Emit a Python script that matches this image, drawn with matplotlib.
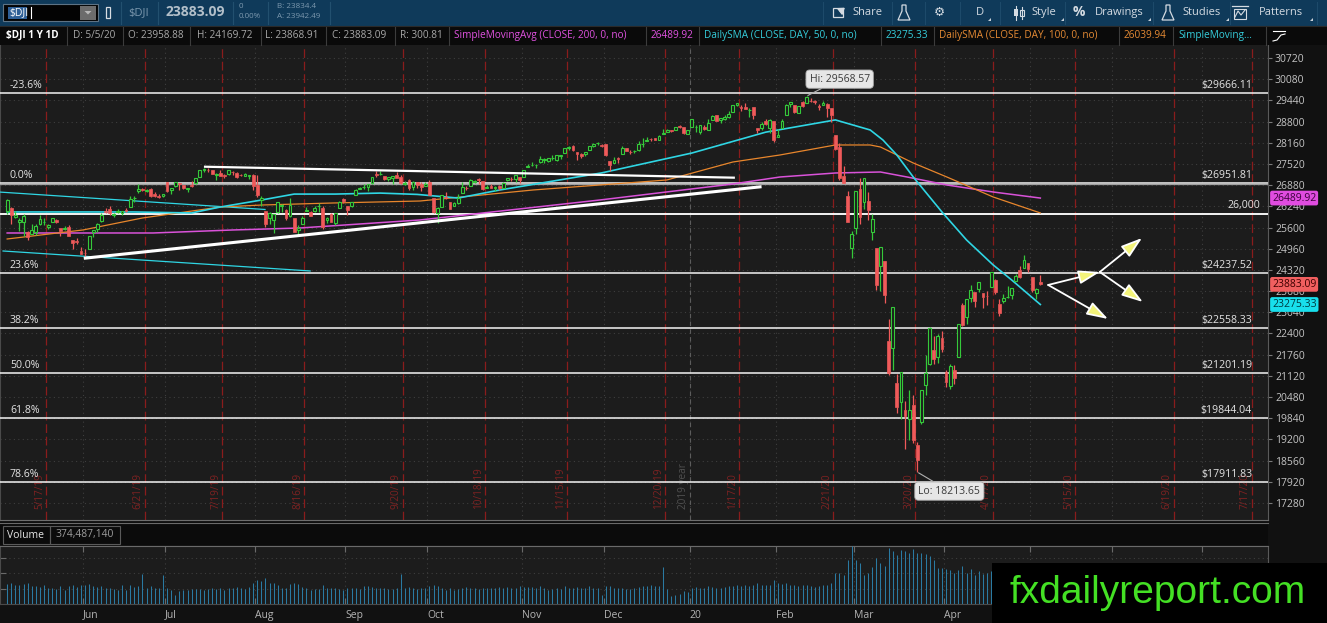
"""Rebuild the thinkorswim $DJI 1Y/1D chart snapshot (5/5/20) as out.png."""

import numpy as np
import pandas as pd
import matplotlib

matplotlib.use("Agg")
import matplotlib.pyplot as plt
from matplotlib import transforms
from matplotlib.patches import Rectangle, Polygon

W, H, DPI = 1327, 623, 100

# ------------------------------------------------------------------ data
holidays = ["2019-05-27", "2019-07-04", "2019-09-02", "2019-11-28", "2019-12-25",
            "2020-01-01", "2020-01-20", "2020-02-17", "2020-04-10", "2020-05-25",
            "2020-07-03"]

opens = [
    # May 19
    26100, 26200, 25925, 25780, 25770, 25450, 25400, 25450, 25700, 25760, 25620, 25780, 25830, 25600, 25550, 25620, 25210, 25180, 24900,
    # Jun 19
    24830, 24960, 25470, 25550, 25790, 26110, 26150, 25990, 26060, 26040, 26120, 26220, 26480, 26700, 26760, 26700, 26750, 26600, 26560, 26560,
    # Jul 19
    26960, 26720, 26840, 26930, 26870, 26750, 26880, 26930, 27120, 27330, 27340, 27340, 27180, 27260, 27180, 27230, 27290, 27260, 27200, 27170, 27170, 27180,
    # Aug 19
    26880, 26440, 26110, 25890, 25830, 26070, 26260, 26140, 25950, 25900, 25540, 25700, 26100, 26080, 26090, 26240, 26180, 25820, 26010, 25730, 26180, 26460,
    # Sep 19
    26260, 26260, 26570, 26770, 26820, 26810, 26950, 27210, 27220, 27150, 27080, 27100, 27180, 27130, 26900, 27030, 26810, 26970, 26920, 26850,
    # Oct 19
    26960, 26490, 26040, 26230, 26530, 26370, 26250, 26330, 26650, 26790, 26840, 26990, 27060, 27000, 26800, 26860, 26780, 26860, 26800, 27030, 27080, 27060, 27130,
    # Nov 19
    27120, 27420, 27480, 27490, 27570, 27650, 27620, 27690, 27640, 27760, 27850, 28000, 28070, 27890, 27830, 27810, 27950, 28060, 28150, 28100,
    # Dec 19
    28110, 27600, 27560, 27690, 27820, 27990, 27890, 27910, 27930, 28130, 28220, 28270, 28290, 28230, 28410, 28490, 28560, 28540, 28680, 28650, 28420,
    # Jan 20
    28640, 28630, 28470, 28640, 28560, 28850, 29000, 28850, 28880, 28940, 29100, 29310, 29240, 29250, 29140, 29240, 28600, 28600, 28820, 28620, 28810,
    # Feb 20
    28320, 28620, 28990, 29330, 29290, 29050, 29390, 29360, 29430, 29430, 29280, 29300, 29330, 29210, 28400, 28030, 27150, 26560, 24980,
    # Mar 20
    25590, 26763, 26383, 26390, 25457, 24992, 24453, 24604, 22184, 21973, 20900, 20345, 20090, 19829, 20254, 19028, 19723, 20856, 21469, 21899, 21678, 22277,
    # Apr 20
    21227, 20819, 21285, 21693, 23264, 22893, 23482, 23659, 23754, 23635, 23543, 23816, 24020, 23300, 23369, 23489, 23575, 23985, 24322, 24387, 24524,
    # May 20
    24119, 23613, 23958.88,
]
highs = [
    26450, 26215, 26100, 25890, 26000, 25500, 25700, 25720, 25980, 25900, 25720, 25900, 25870, 25600, 25650, 25670, 25210, 25270, 25010,
    24950, 25340, 25540, 25750, 26050, 26200, 26250, 26030, 26150, 26110, 26190, 26550, 26560, 26910, 26800, 26770, 26790, 26660, 26620, 26620,
    26970, 26790, 26970, 26950, 26870, 26800, 27000, 27100, 27330, 27400, 27390, 27350, 27240, 27340, 27230, 27350, 27300, 27270, 27230, 27250, 27200, 27230,
    27180, 26550, 26110, 26060, 26010, 26380, 26300, 26150, 26490, 25900, 25680, 25940, 26230, 26110, 26250, 26340, 26260, 25920, 26040, 26040, 26400, 26480,
    26260, 26360, 26750, 26830, 26910, 26910, 27140, 27300, 27310, 27150, 27130, 27160, 27270, 27180, 27000, 27080, 27010, 26990, 26990, 26960,
    27040, 26490, 26220, 26590, 26680, 26370, 26380, 26620, 26960, 26840, 27070, 27050, 27090, 27000, 26890, 26920, 26840, 26880, 26990, 27110, 27120, 27200, 27130,
    27350, 27520, 27580, 27520, 27770, 27690, 27700, 27800, 27800, 27800, 28010, 28050, 28090, 27890, 27840, 27880, 28070, 28140, 28170, 28120,
    28110, 27600, 27730, 27720, 28060, 28000, 27950, 27940, 28220, 28290, 28340, 28300, 28300, 28380, 28590, 28580, 28560, 28630, 28700, 28650, 28540,
    28870, 28710, 28710, 28690, 28870, 28990, 29010, 28910, 29010, 29120, 29300, 29370, 29300, 29370, 29200, 29250, 28600, 28800, 28890, 28880, 28820,
    28580, 28870, 29320, 29380, 29290, 29280, 29410, 29568.57, 29500, 29440, 29340, 29410, 29370, 29210, 28400, 28150, 27450, 26710, 25500,
    26706, 27084, 27091, 26663, 26016, 24992, 25020, 24604, 22838, 23186, 21189, 21248, 20363, 20680, 20531, 19121, 20705, 21758, 22595, 22327, 22378, 22479,
    21287, 21477, 21447, 22680, 23328, 23434, 23849, 23659, 23962, 23635, 23688, 24265, 24052, 23448, 23592, 23822, 23783, 24206, 24434, 24764, 24524,
    24119, 23776, 24169.72,
]
lows = [
    26000, 25700, 25880, 25500, 25350, 25222, 25400, 25370, 25680, 25690, 25550, 25760, 25740, 25330, 25530, 25340, 24940, 25110, 24810,
    24680, 24960, 25300, 25460, 25770, 26030, 25980, 25930, 26030, 25990, 26070, 26220, 26370, 26630, 26710, 26670, 26530, 26510, 26500, 26530,
    26670, 26610, 26830, 26720, 26760, 26660, 26820, 26920, 27120, 27290, 27290, 27210, 27030, 27150, 27100, 27190, 27200, 27100, 27150, 27150, 27060, 26730,
    26510, 26250, 25630, 25700, 25440, 26030, 26080, 25830, 25920, 25470, 25340, 25700, 26090, 25950, 26080, 26080, 25550, 25740, 25760, 25690, 26180, 26330,
    25980, 26220, 26570, 26770, 26770, 26710, 26920, 27130, 27200, 27030, 27010, 26910, 27090, 26910, 26880, 26740, 26740, 26790, 26700, 26850,
    26570, 26030, 25740, 26230, 26460, 26160, 26250, 26300, 26650, 26740, 26840, 26950, 26920, 26720, 26800, 26780, 26710, 26730, 26780, 27000, 27020, 26980, 26930,
    27120, 27420, 27450, 27410, 27560, 27560, 27590, 27630, 27600, 27670, 27840, 27950, 27900, 27640, 27700, 27760, 27950, 28040, 28090, 28030,
    27750, 27320, 27560, 27560, 27820, 27900, 27820, 27850, 27900, 28030, 28220, 28220, 28230, 28230, 28410, 28490, 28500, 28540, 28600, 28420, 28410,
    28630, 28500, 28420, 28550, 28550, 28850, 28810, 28770, 28860, 28920, 29090, 29280, 29130, 29180, 28950, 28880, 28440, 28550, 28710, 28460, 28170,
    28320, 28620, 28990, 29230, 29050, 29050, 29240, 29360, 29380, 29330, 29160, 29290, 28930, 28790, 27930, 27040, 26930, 25760, 24680,
    25391, 25706, 26156, 25832, 25226, 23707, 23690, 23328, 21154, 21286, 19990, 19804, 18917, 19178, 19094, 18213.65, 19651, 20535, 21448, 21469, 21522, 21852,
    20784, 20735, 20863, 21693, 22630, 22683, 23352, 23209, 23655, 23163, 23266, 23816, 23593, 22941, 23311, 23471, 23446, 23985, 24080, 24387, 24253,
    23645, 23443, 23868.91,
]
closes = [
    26438, 25965, 25968, 25828, 25942, 25324, 25532, 25648, 25862, 25764, 25679, 25877, 25776, 25490, 25585, 25347, 25126, 25169, 24815,
    24820, 25332, 25540, 25720, 25984, 26062, 26048, 26005, 26107, 26090, 26112, 26466, 26504, 26753, 26720, 26728, 26548, 26537, 26526, 26600,
    26718, 26787, 26966, 26922, 26806, 26784, 26860, 27088, 27332, 27359, 27336, 27220, 27223, 27154, 27171, 27349, 27270, 27140, 27192, 27221, 27198, 26864,
    26583, 26485, 25718, 26030, 26008, 26378, 26287, 25898, 26280, 25479, 25579, 25886, 26136, 25962, 26202, 26253, 25629, 25899, 25778, 26036, 26363, 26403,
    26118, 26356, 26728, 26797, 26835, 26909, 27137, 27182, 27220, 27076, 27111, 27147, 27094, 26935, 26950, 26808, 26970, 26891, 26820, 26917,
    26573, 26079, 26202, 26573, 26478, 26164, 26347, 26497, 26817, 26787, 27025, 27001, 27026, 26770, 26828, 26788, 26834, 26806, 26958, 27091, 27071, 27186, 27046,
    27347, 27462, 27492, 27493, 27675, 27681, 27691, 27691, 27784, 27782, 28005, 28036, 27934, 27821, 27766, 27876, 28066, 28122, 28164, 28051,
    27783, 27503, 27650, 27678, 28015, 27910, 27881, 27911, 28132, 28135, 28235, 28268, 28240, 28377, 28455, 28551, 28515, 28621, 28645, 28462, 28538,
    28869, 28634, 28703, 28584, 28745, 28957, 28824, 28907, 28940, 29030, 29298, 29348, 29196, 29186, 29160, 28990, 28536, 28723, 28734, 28860, 28256,
    28400, 28808, 29291, 29380, 29103, 29276, 29277, 29551, 29424, 29398, 29232, 29348, 29220, 28992, 27961, 27081, 26957, 25766, 25409,
    26703, 25917, 27091, 26121, 25865, 23851, 25018, 23553, 21200, 23186, 20189, 21237, 19899, 20087, 19174, 18592, 20705, 21200, 22552, 21637, 22327, 21917,
    20944, 21413, 21053, 22680, 22654, 23434, 23719, 23390, 23950, 23505, 23538, 24242, 23650, 23019, 23475, 23516, 23775, 24134, 24102, 24634, 24346,
    23724, 23750, 23883.09,
]
# volume in millions of shares
volumes = [
    320, 330, 300, 310, 320, 340, 290, 280, 270, 300, 250, 250, 240, 290, 220, 280, 300, 270, 300,
    300, 320, 280, 270, 290, 260, 260, 240, 230, 300, 220, 300, 270, 280, 480, 250, 280, 250, 260, 470,
    260, 230, 150, 200, 220, 230, 240, 240, 240, 230, 240, 250, 240, 260, 230, 260, 250, 270, 250, 240, 270, 340,
    380, 360, 410, 330, 340, 300, 260, 260, 320, 340, 320, 270, 250, 230, 240, 240, 310, 250, 260, 260, 240, 230,
    260, 250, 260, 240, 280, 290, 270, 250, 250, 260, 240, 240, 250, 480, 250, 270, 250, 240, 250, 250,
    280, 300, 290, 260, 230, 260, 230, 240, 260, 270, 250, 250, 240, 260, 250, 260, 250, 270, 260, 270, 250, 260, 280,
    270, 270, 270, 260, 280, 250, 230, 240, 250, 240, 290, 260, 250, 270, 260, 250, 280, 260, 250, 140,
    280, 290, 260, 250, 260, 240, 240, 250, 270, 280, 290, 300, 280, 290, 590, 240, 130, 150, 160, 200, 190,
    260, 270, 260, 260, 280, 270, 250, 260, 270, 280, 280, 310, 290, 300, 280, 300, 340, 310, 300, 310, 380,
    330, 320, 340, 300, 310, 280, 300, 300, 290, 270, 290, 300, 310, 340, 490, 500, 470, 700, 920,
    700, 650, 470, 500, 590, 730, 650, 600, 890, 850, 780, 860, 850, 820, 870, 810, 820, 800, 760, 700, 580, 570,
    560, 540, 500, 550, 600, 500, 560, 470, 520, 480, 500, 520, 420, 470, 410, 420, 380, 400, 430, 460, 470,
    410, 380, 374.48714,
]

# moving averages (bar index, value)
sma50_at = [0, 31, 45, 52, 62, 70, 80, 91, 100, 110, 120, 145, 167, 185, 202, 210.5, 213.6, 217, 221, 228, 234, 240.5, 245, 252]
sma50 = [26070, 26070, 26040, 26220, 26430, 26610, 26610, 26640, 26600, 26490, 26730, 27250, 27850, 28480, 28850, 28546, 28244, 27790, 27126, 26069, 25224, 24469, 24016, 23275.33]
sma100_at = [0, 18.5, 33, 52, 62.4, 79.5, 100.7, 128.3, 160.9, 177, 188.5, 202, 210.5, 213, 217, 221, 229.2, 240.5, 252]
sma100 = [25254, 25526, 25888, 26220, 26281, 26341, 26401, 26734, 27036, 27579, 27791, 28093, 28093, 28032, 27791, 27549, 27126, 26522, 26039.94]
sma200_at = [0, 35.6, 55.1, 71.4, 100.7, 144.6, 177, 188.5, 202, 213, 219.5, 229.2, 240.5, 252]
sma200 = [25435, 25435, 25526, 25586, 25828, 26432, 26915, 27126, 27247, 27277, 27126, 26885, 26673, 26489.92]

# drawings
fib_levels = [29666.11, 26951.81, 24237.52, 22558.33, 21201.19, 19844.04, 17911.83]
fib_pcts = ["-23.6%", "0.0%", "23.6%", "38.2%", "50.0%", "61.8%", "78.6%"]
round_level = 26000
trend_x = [[48.0, 177.5], [18.7, 184.0]]
trend_y = [[27437, 27105], [24671, 26833]]
channel_x = [[-1.7, 62.9], [-1.0, 73.9]]
channel_y = [[26670, 26145], [24891, 24288]]
arrow_from = [(253.9, 23865), (266.5, 24257), (266.5, 24257), (253.9, 23865)]
arrow_to = [(266.5, 24257), (276.8, 25284), (277.0, 23351), (268.5, 22838)]
expiries = ["2019-05-17", "2019-06-21", "2019-07-19", "2019-08-16", "2019-09-20", "2019-10-18",
            "2019-11-15", "2019-12-20", "2020-01-17", "2020-02-21", "2020-03-20", "2020-04-17",
            "2020-05-15", "2020-06-19", "2020-07-17"]

# ------------------------------------------------------------------ style
BG = "#1c1c1c"
GREEN = "#35c93a"
RED = "#f05a5a"
CYAN = "#2fd6e4"
ORANGE = "#e8862c"
MAGENTA = "#d952d9"
VOLC = "#2a7aa2"
plt.rcParams["font.family"] = ["Open Sans", "DejaVu Sans"]

days = pd.bdate_range("2019-05-06", "2020-07-31")
days = days[~days.isin(pd.to_datetime(holidays))]
n = len(closes)
x = np.arange(n)

# chart geometry: first bar at px 7.15, 4.1 px per bar; 30720 at px 58, 17280 at px 503
px_per_pt = (503 - 58) / (30720 - 17280)
ylim = (17280 - (520 - 503) / px_per_pt, 30720 + (58 - 45) / px_per_pt)
xlim = (-7.15 / 4.1, (1268 - 7.15) / 4.1)

month_pos, month_lbl = [], []
for i in range(1, len(days)):
    if days[i].month != days[i - 1].month and i - 0.5 < xlim[1]:
        month_pos.append(i - 0.5)
        month_lbl.append("20" if days[i].month == 1 else days[i].strftime("%b"))
exp_pos = [days.get_loc(pd.Timestamp(d)) + 0.5 for d in expiries]
exp_lbl = [f"{d.month}/{d.day}/{d:%y}" for d in pd.to_datetime(expiries)]
year_pos = days.get_loc(pd.Timestamp("2020-01-02")) - 0.5

fig = plt.figure(figsize=(W / DPI, H / DPI), dpi=DPI, facecolor="#111111")


def frame(x0, y0, x1, y1):
    return [x0 / W, 1 - y1 / H, (x1 - x0) / W, (y1 - y0) / H]


def shifted(trans, dx=0, dy=0):
    return transforms.offset_copy(trans, fig=fig, x=dx, y=dy, units="dots")


ax = fig.add_axes(frame(0, 45, 1268, 520), facecolor=BG)
axv = fig.add_axes(frame(0, 546, 1268, 604), facecolor=BG)
ui = fig.add_axes([0, 0, 1, 1], zorder=10)
ui.set_xlim(0, W)
ui.set_ylim(H, 0)
ui.axis("off")

# ------------------------------------------------------------------ price panel
ax.set_xlim(*xlim)
ax.set_ylim(*ylim)
yt = np.arange(17280, 30721, 640)
ax.set_yticks(yt)
ax.set_yticklabels([str(v) for v in yt])
ax.yaxis.tick_right()
ax.tick_params(axis="y", direction="out", length=3, pad=2, color="#7a7a7a",
               labelcolor="#c4c4c4", labelsize=7.5)
ax.set_xticks([])
ax.spines["top"].set_visible(False)
ax.spines["right"].set_color("#5a5a5a")
ax.spines["left"].set_color("#4a4a4a")
ax.spines["bottom"].set_color("#6e6e6e")

for v in yt:
    ax.axhline(v, color="#3e3e3e", lw=0.8, ls=(0, (1, 3)), zorder=0)
for p in month_pos:
    ax.axvline(p, color="#3e3e3e", lw=0.8, ls=(0, (1, 3)), zorder=0)
ax.axvline(year_pos, color="#5c5c5c", lw=0.8, ls=(0, (4, 3)), zorder=1)

col_tr = shifted(transforms.blended_transform_factory(ax.transData, ax.transAxes), -1, 0)
for p, lbl in zip(exp_pos, exp_lbl):
    ax.axvline(p, color="#8a1c1c", lw=0.9, ls=(0, (7, 3)), zorder=1)
    ax.text(p, 11 / 475, lbl, transform=col_tr, rotation=90, ha="right", va="bottom",
            color="#7e2222", fontsize=7.2, zorder=1)
ax.text(year_pos, 11 / 475, "2019 year", transform=col_tr, rotation=90, ha="right",
        va="bottom", color="#505050", fontsize=7.2, zorder=1)

# fibonacci retracement + round number
row_tr = transforms.blended_transform_factory(ax.transAxes, ax.transData)
for lvl, pct in zip(fib_levels, fib_pcts):
    ax.axhline(lvl, color="#f4f4f4", lw=1.1, zorder=3)
    ax.text(10 / 1268, lvl, pct, transform=shifted(row_tr, 0, 2), ha="left", va="bottom",
            color="#e4e4e4", fontsize=7.6, zorder=3)
    ax.text(1252 / 1268, lvl, f"${lvl:.2f}", transform=shifted(row_tr, 0, 2), ha="right",
            va="bottom", color="#e4e4e4", fontsize=7.6, zorder=3)
ax.axhline(fib_levels[1] - 45, color="#a0a0a0", lw=0.9, zorder=3)
ax.axhline(round_level, color="#f4f4f4", lw=1.4, zorder=3)
ax.text(1260 / 1268, round_level, f"{round_level:,}", transform=shifted(row_tr, 0, 3),
        ha="right", va="bottom", color="#e4e4e4", fontsize=7.6, zorder=3)

# drawn trend lines
for xs, ys in zip(channel_x, channel_y):
    ax.plot(xs, ys, color=CYAN, lw=0.9, zorder=3)
ax.plot(trend_x[0], trend_y[0], color="white", lw=1.6, zorder=6, solid_capstyle="butt")
ax.plot(trend_x[1], trend_y[1], color="white", lw=2.2, zorder=6, solid_capstyle="butt")

# moving averages
ax.plot(sma200_at, sma200, color=MAGENTA, lw=1.1, zorder=4)
ax.plot(sma100_at, sma100, color=ORANGE, lw=0.9, zorder=4)
ax.plot(sma50_at, sma50, color=CYAN, lw=1.2, zorder=4)

# candles: up bars hollow green, down bars filled red
o, hi, lo, c = (np.array(v, dtype=float) for v in (opens, highs, lows, closes))
up = c >= o
top = np.maximum(o, c)
bot = np.minimum(o, c)
cols = np.where(up, GREEN, RED)
ax.vlines(x, top, hi, colors=cols, lw=0.9, zorder=5)
ax.vlines(x, lo, bot, colors=cols, lw=0.9, zorder=5)
ax.bar(x[up], (top - bot)[up], bottom=bot[up], width=0.66, facecolor=BG,
       edgecolor=GREEN, lw=0.8, zorder=5)
ax.bar(x[~up], (top - bot)[~up], bottom=bot[~up], width=0.66, facecolor=RED,
       edgecolor=RED, lw=0.5, zorder=5)

# high / low bubbles
i_hi = int(np.argmax(hi))
i_lo = int(np.argmin(lo))
bubble = dict(boxstyle="round,pad=0.35,rounding_size=0.35", fc="#e6e6e6", ec="#a8a8a8", lw=0.6)
ax.annotate(f"Hi: {hi[i_hi]:.2f}", xy=(i_hi, hi[i_hi]), xytext=(33, 17),
            textcoords="offset pixels", ha="center", va="center", fontsize=7.5,
            color="#3a3a3a", bbox=bubble, zorder=8,
            arrowprops=dict(arrowstyle="-", color="#b0b0b0", lw=0.8, shrinkA=0, shrinkB=1))
ax.annotate(f"Lo: {lo[i_lo]:.2f}", xy=(i_lo, lo[i_lo]), xytext=(32, -19),
            textcoords="offset pixels", ha="center", va="center", fontsize=7.5,
            color="#3a3a3a", bbox=bubble, zorder=8,
            arrowprops=dict(arrowstyle="-", color="#b0b0b0", lw=0.8, shrinkA=0, shrinkB=1))

# scenario arrows
for a, b in zip(arrow_from, arrow_to):
    ax.annotate("", xy=b, xytext=a, zorder=7,
                arrowprops=dict(arrowstyle="-|>,head_length=1.3,head_width=0.42",
                                fc="#f4f47a", ec="white", lw=1.3, shrinkA=0, shrinkB=0))

# last-value tags on the price axis
tag_tr = transforms.blended_transform_factory(ax.transAxes, ax.transData)
for val, fc, tc in ((sma200[-1], "#e04ce0", "#3a003a"),
                    (closes[-1], "#f05f5f", "#3c0000"),
                    (sma50[-1], "#18dfec", "#003a40")):
    ax.text(1272 / 1268, val, f"{val:.2f}", transform=tag_tr, ha="left", va="center",
            fontsize=7.5, color=tc, clip_on=False, zorder=9,
            bbox=dict(boxstyle="round,pad=0.18,rounding_size=0.2", fc=fc, ec="none"))

# ------------------------------------------------------------------ volume panel
axv.set_xlim(*xlim)
axv.set_ylim(0, 925)
axv.vlines(x, 0, volumes, colors=VOLC, lw=0.75, zorder=3)
for v in (245, 490, 735):
    axv.axhline(v, color="#3e3e3e", lw=0.8, ls=(0, (1, 3)), zorder=0)
for p in month_pos:
    axv.axvline(p, color="#3e3e3e", lw=0.8, ls=(0, (1, 3)), zorder=0)
axv.set_yticks([245, 490, 735])
axv.tick_params(axis="y", direction="in", length=4, labelleft=False, color="#6a6a6a")
axv.set_xticks(month_pos)
axv.set_xticklabels(month_lbl, ha="left")
axv.tick_params(axis="x", direction="in", length=4, top=True, color="#6a6a6a",
                labelcolor="#b4b4b4", labelsize=7.5, pad=4)
axv.spines["top"].set_color("#6a6a6a")
axv.spines["right"].set_color("#5a5a5a")
axv.spines["left"].set_color("#4a4a4a")
axv.spines["bottom"].set_color("#4a4a4a")

# ------------------------------------------------------------------ chrome
ui.add_patch(Rectangle((0, 0), W, 26, fc="#0f3a5a", ec="none"))
ui.add_patch(Rectangle((0, 26), W, 19, fc="#0a0a0a", ec="none"))
ui.plot([0, W], [26, 26], color="#2a2a2a", lw=0.8)
ui.add_patch(Rectangle((0, 522), 1268, 23, fc="#0b0b0b", ec="none"))
ui.plot([0, 1268], [523, 523], color="#6a6a6a", lw=0.8)

# toolbar, left side
ui.add_patch(Rectangle((3, 4), 95, 17, fc="#030303", ec="#5d7385", lw=0.8))
ui.add_patch(Rectangle((8, 6.5), 19, 12, fc="#2e5f96", ec="none"))
ui.text(9, 12.5, "$DJI", color="white", fontsize=7.5, va="center")
ui.plot([31, 31], [7, 18], color="white", lw=0.8)
ui.add_patch(Rectangle((80, 5.5), 16, 14, fc="#6c6c6c", ec="none"))
ui.add_patch(Polygon([(84.5, 11), (91.5, 11), (88, 14.5)], closed=True, fc="#b8b8b8", ec="none"))
ui.add_patch(Rectangle((106, 7), 4, 11, fc="none", ec="#d8dde2", lw=0.9))
ui.text(128, 12.5, "$DJI", color="#7c98ae", fontsize=8, va="center")
ui.text(166, 12.5, f"{closes[-1]:.2f}", color="#b2bfc9", fontsize=10, fontweight="bold", va="center")
ui.text(239, 6.5, "0", color="#7c98ae", fontsize=5.8, va="center")
ui.text(239, 16.5, "0.00%", color="#7c98ae", fontsize=5.8, va="center")
ui.text(277, 6.5, "B: 23834.4", color="#7c98ae", fontsize=5.8, va="center")
ui.text(277, 16.5, "A: 23942.49", color="#7c98ae", fontsize=5.8, va="center")
for sx in (121, 158, 233, 268, 330):
    ui.plot([sx, sx], [2, 24], color="#22506f", lw=0.8)

# toolbar, right side
btn = dict(color="#d4dbe2", fontsize=8, va="center")
ui.add_patch(Rectangle((833, 8), 10, 9, fc="none", ec="#d4dbe2", lw=0.9))
ui.annotate("", xy=(847, 6), xytext=(838, 13),
            arrowprops=dict(arrowstyle="-|>,head_length=0.35,head_width=0.25", color="#d4dbe2", lw=1.0))
ui.text(852, 12.5, "Share", **btn)
ui.add_patch(Polygon([(902, 5), (906, 5), (906, 11), (910, 20), (898, 20), (902, 11)],
                     closed=True, fc="none", ec="#d4dbe2", lw=0.9))
ui.text(939, 12.5, "\u2699", color="#d4dbe2", fontsize=9, va="center", ha="center",
        fontfamily="DejaVu Sans")
ui.text(980, 12.5, "D", ha="center", **btn)
ui.plot([1016, 1016], [6, 20], color="#d4dbe2", lw=0.8)
ui.add_patch(Rectangle((1014, 9), 4, 7, fc="#d4dbe2", ec="none"))
ui.plot([1022, 1022], [7, 19], color="#d4dbe2", lw=0.8)
ui.add_patch(Rectangle((1020, 10), 4, 6, fc="none", ec="#d4dbe2", lw=0.8))
ui.text(1031, 12.5, "Style", **btn)
ui.text(1073, 12.5, "%", color="#d4dbe2", fontsize=10, fontweight="bold", va="center")
ui.text(1095, 12.5, "Drawings", **btn)
ui.add_patch(Polygon([(1166, 5), (1170, 5), (1170, 11), (1174, 20), (1162, 20), (1166, 11)],
                     closed=True, fc="none", ec="#d4dbe2", lw=0.9))
ui.text(1182, 12.5, "Studies", **btn)
ui.add_patch(Rectangle((1234, 9), 12, 10, fc="none", ec="#d4dbe2", lw=0.8))
ui.plot([1232, 1248], [6, 6], color="#d4dbe2", lw=0.9)
ui.plot([1235, 1238, 1241, 1245], [17, 11, 15, 10], color="#d4dbe2", lw=0.8)
ui.text(1259, 12.5, "Patterns", **btn)
for cx in (988, 1061, 1148, 1226, 1310):
    ui.add_patch(Polygon([(cx, 21), (cx + 3, 21), (cx + 3, 18)], closed=True, fc="#c8d0d8", ec="none"))
for sx in (823, 892, 925, 960, 1000, 1065, 1153, 1230, 1317):
    ui.plot([sx, sx], [2, 24], color="#1d4a6a", lw=0.8)

# info bar
day = days[n - 1]
info = [
    ("$DJI 1 Y 1D", 6, "white", "bold"),
    (f"D: {day.month}/{day.day}/{day:%y}", 73, "#a8a8a8", "normal"),
    (f"O: {opens[-1]:.2f}", 128, "#a8a8a8", "normal"),
    (f"H: {highs[-1]:.2f}", 197, "#a8a8a8", "normal"),
    (f"L: {lows[-1]:.2f}", 265, "#a8a8a8", "normal"),
    (f"C: {closes[-1]:.2f}", 332, "#a8a8a8", "normal"),
    (f"R: {highs[-1] - lows[-1]:.2f}", 400, "#a8a8a8", "normal"),
    ("SimpleMovingAvg (CLOSE, 200, 0, no)", 454, "#e052e0", "normal"),
    (f"{sma200[-1]:.2f}", 651, "#e052e0", "normal"),
    ("DailySMA (CLOSE, DAY, 50, 0, no)", 704, "#35cddb", "normal"),
    (f"{sma50[-1]:.2f}", 886, "#35cddb", "normal"),
    ("DailySMA (CLOSE, DAY, 100, 0, no)", 939, "#e58a34", "normal"),
    (f"{sma100[-1]:.2f}", 1124, "#e58a34", "normal"),
    ("SimpleMoving...", 1178, "#35cddb", "normal"),
]
for txt, tx, tc, fw in info:
    ui.text(tx, 35.5, txt, color=tc, fontsize=7.2, fontweight=fw, va="center")
for sx in (67, 123, 190, 261, 326, 395, 449, 646, 699, 881, 934, 1119, 1173, 1266):
    ui.plot([sx, sx], [27, 45], color="#3c3c3c", lw=0.8)
ui.plot([1273, 1285], [31, 31], color="white", lw=0.8)
ui.plot([1273, 1277, 1281, 1285], [41, 40, 35, 34], color="white", lw=0.8)

# volume header
ui.add_patch(Rectangle((3, 526), 47, 18, fc="none", ec="#5a5a5a", lw=0.8))
ui.text(7, 535, "Volume", color="#e8e8e8", fontsize=7.5, va="center")
ui.add_patch(Rectangle((50, 526), 70, 18, fc="none", ec="#5a5a5a", lw=0.8))
ui.text(55, 535, f"{round(volumes[-1] * 1e6):,}", color="#9c9c9c", fontsize=7.5, va="center")

# watermark
ui.add_patch(Rectangle((992, 563), W - 992, H - 563, fc="black", ec="none"))
ui.text(1158, 593, "fxdailyreport.com", color="#44e024", fontsize=28,
        fontfamily="Liberation Sans", ha="center", va="center")

fig.savefig("out.png", dpi=DPI, facecolor=fig.get_facecolor())
